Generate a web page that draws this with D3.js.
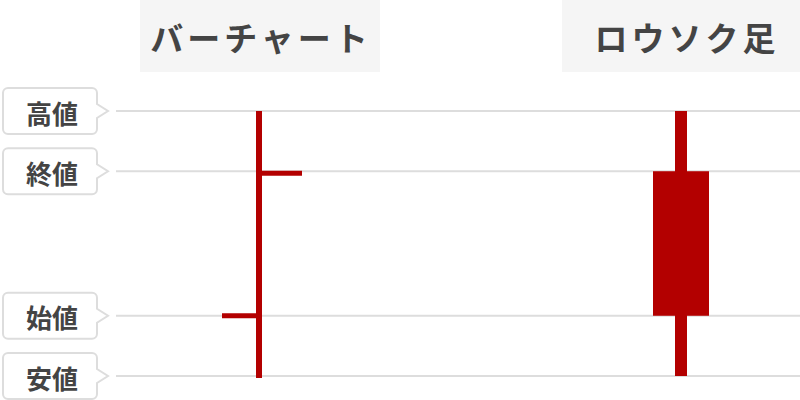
<!DOCTYPE html>
<html>
<head>
<meta charset="utf-8">
<script src="https://cdn.jsdelivr.net/npm/d3@7"></script>
<style>
  body { margin: 0; background: #fff; }
  text { font-family: "Noto Sans CJK JP", "Noto Sans", sans-serif; font-weight: 700; fill: #444; }
</style>
</head>
<body>
<svg id="chart" width="800" height="400"></svg>
<script>
// chart kinds, one column each
const kinds = ["バーチャート", "ロウソク足"];
// price levels, top to bottom
const levelNames = ["高値", "終値", "始値", "安値"];
const levelValues = [130, 120, 96, 86];
// one candle: open, high, low, close
const ohlc = { open: 96, high: 130, low: 86, close: 120 };

const red = "#b30000";
const grid = "#dddddd";

const svg = d3.select("#chart");

const x = d3.scalePoint().domain(kinds).range([259, 681]);
const y = d3.scaleLinear().domain([86, 130]).range([376, 111]);

// title boxes
const titles = svg.append("g").selectAll("g")
  .data(kinds)
  .join("g")
  .attr("transform", d => `translate(${x(d)},0)`);
titles.append("rect")
  .attr("x", -119).attr("y", 0)
  .attr("width", 240).attr("height", 72)
  .attr("fill", "#f5f5f5");
titles.append("text")
  .attr("x", (d, i) => i ? 6 : 2).attr("y", 37)
  .attr("text-anchor", "middle")
  .attr("dominant-baseline", "central")
  .style("font-size", "33px")
  .style("letter-spacing", "4px")
  .text(d => d);

// grid lines at each level
svg.append("g").selectAll("line")
  .data(levelValues)
  .join("line")
  .attr("x1", 116).attr("x2", 800)
  .attr("y1", d => y(d)).attr("y2", d => y(d))
  .attr("stroke", grid)
  .attr("stroke-width", 2);

// level labels: rounded box with a little pointer on the right
const bw = 94, bh = 46, r = 5, tip = 11, half = 7;
const labelPath = function(){
  const p = d3.path();
  p.moveTo(r, -bh/2);
  p.lineTo(bw - r, -bh/2);
  p.arcTo(bw, -bh/2, bw, -bh/2 + r, r);
  p.lineTo(bw, -half);
  p.lineTo(bw + tip, 0);
  p.lineTo(bw, half);
  p.lineTo(bw, bh/2 - r);
  p.arcTo(bw, bh/2, bw - r, bh/2, r);
  p.lineTo(r, bh/2);
  p.arcTo(0, bh/2, 0, bh/2 - r, r);
  p.lineTo(0, -bh/2 + r);
  p.arcTo(0, -bh/2, r, -bh/2, r);
  p.closePath();
  return p.toString();
};
const labels = svg.append("g").selectAll("g")
  .data(levelNames)
  .join("g")
  .attr("transform", (d, i) => `translate(3,${y(levelValues[i])})`);
labels.append("path")
  .attr("d", labelPath())
  .attr("fill", "#fff")
  .attr("stroke", grid)
  .attr("stroke-width", 2);
labels.append("text")
  .attr("x", bw/2 + 2).attr("y", 1)
  .attr("text-anchor", "middle")
  .attr("dominant-baseline", "central")
  .style("font-size", "26px")
  .text(d => d);

// bar chart (OHLC bar)
const bx = x(kinds[0]);
const bar = svg.append("g");
bar.append("line")
  .attr("x1", bx).attr("x2", bx)
  .attr("y1", y(ohlc.high)).attr("y2", y(ohlc.low) + 2)
  .attr("stroke", red).attr("stroke-width", 6);
bar.append("line") // open tick, left
  .attr("x1", bx - 37).attr("x2", bx)
  .attr("y1", y(ohlc.open)).attr("y2", y(ohlc.open))
  .attr("stroke", red).attr("stroke-width", 5);
bar.append("line") // close tick, right
  .attr("x1", bx).attr("x2", bx + 43)
  .attr("y1", y(ohlc.close) + 2).attr("y2", y(ohlc.close) + 2)
  .attr("stroke", red).attr("stroke-width", 5);

// candlestick
const cx = x(kinds[1]);
const candle = svg.append("g");
candle.append("rect") // wick
  .attr("x", cx - 6).attr("width", 12)
  .attr("y", y(ohlc.high)).attr("height", y(ohlc.low) - y(ohlc.high))
  .attr("fill", red);
candle.append("rect") // body
  .attr("x", cx - 28).attr("width", 56)
  .attr("y", y(Math.max(ohlc.open, ohlc.close)))
  .attr("height", Math.abs(y(ohlc.open) - y(ohlc.close)))
  .attr("fill", red);
</script>
</body>
</html>
